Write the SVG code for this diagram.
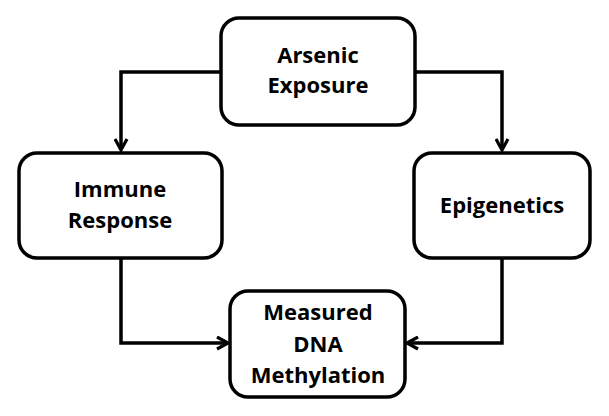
<svg xmlns="http://www.w3.org/2000/svg" width="609" height="416" viewBox="0 0 609 416">
<style>
.box{fill:#fff;stroke:#000;stroke-width:3.5}
.lbl{font-family:"Open Sans","Liberation Sans",sans-serif;font-weight:bold;font-size:22px;fill:#000;text-anchor:middle}
.conn{fill:none;stroke:#000;stroke-width:3.5}
</style>
<defs>
<marker id="arr" viewBox="0 0 15 15" refX="13" refY="7.5" markerWidth="15" markerHeight="15" markerUnits="userSpaceOnUse" orient="auto">
<path d="M2,1.5 L13,7.5 L2,13.5" fill="none" stroke="#000" stroke-width="3.2"/>
</marker>
</defs>
<rect width="609" height="416" fill="#fff"/>
<g id="connectors">
<path class="conn" d="M220,72 H121 V150" marker-end="url(#arr)"/>
<path class="conn" d="M415,72 H502 V150" marker-end="url(#arr)"/>
<path class="conn" d="M121,258 V343 H228" marker-end="url(#arr)"/>
<path class="conn" d="M502,258 V343 H407" marker-end="url(#arr)"/>
</g>
<g id="arsenic">
<rect class="box" x="221" y="18" width="194" height="107" rx="18"/>
<text class="lbl" x="318" y="63">Arsenic</text>
<text class="lbl" x="318" y="93">Exposure</text>
</g>
<g id="immune">
<rect class="box" x="19" y="153" width="203" height="105" rx="18"/>
<text class="lbl" x="120" y="197">Immune</text>
<text class="lbl" x="120" y="228">Response</text>
</g>
<g id="epigenetics">
<rect class="box" x="414" y="153" width="176" height="105" rx="18"/>
<text class="lbl" x="502" y="213">Epigenetics</text>
</g>
<g id="measured">
<rect class="box" x="230" y="291" width="175" height="106" rx="18"/>
<text class="lbl" x="318" y="320">Measured</text>
<text class="lbl" x="318" y="352">DNA</text>
<text class="lbl" x="318" y="383">Methylation</text>
</g>
</svg>
